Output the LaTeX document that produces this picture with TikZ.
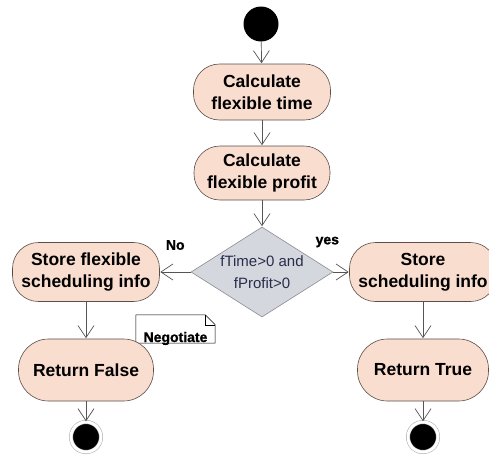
\documentclass[tikz,border=0pt]{standalone}
\usepackage{fontspec}
\setmainfont{Liberation Sans}
\usetikzlibrary{arrows.meta,shapes.geometric}
\definecolor{actfill}{RGB}{249,221,207}
\definecolor{actline}{RGB}{90,78,72}
\definecolor{decfill}{RGB}{212,215,222}
\definecolor{decline}{RGB}{140,140,145}
\definecolor{flowline}{RGB}{85,85,85}
\begin{document}
\begin{tikzpicture}[x=1pt,y=-1pt,
	every edge/.append style={draw=flowline,line width=0.7pt,-{Straight Barb[length=12pt,width=16pt]},shorten >=0.5pt},
	start node/.style={circle,fill=black,minimum size=35pt,inner sep=0pt},
	end node/.style={circle,fill=black,draw=black!35,line width=0.5pt,double=white,double distance=3pt,minimum size=30pt,inner sep=0pt},
	action node/.style={rectangle,draw=actline,fill=actfill,line width=0.6pt,rounded corners=26pt,inner sep=0pt,align=center,font=\bfseries\fontsize{17.5}{22}\selectfont},
	decision node/.style={diamond,draw=decline,fill=decfill,line width=0.6pt,aspect=1.58,inner sep=-3pt,minimum width=142pt,minimum height=90pt,align=center,text={rgb,255:red,40;green,45;blue,75},font=\fontsize{15}{22}\selectfont},
	label node/.style={font=\bfseries\fontsize{14}{16}\selectfont\addfontfeature{FakeBold=1.2}},
	note node/.style={inner sep=0pt,minimum width=79pt,minimum height=28pt,text height=26pt,text depth=0pt,font=\bfseries\fontsize{14}{16}\selectfont\addfontfeature{FakeBold=1.2}}]
	\useasboundingbox (0,0) rectangle (489,455);
	\fill[white] (0,0) rectangle (489,455);
	
	\node[start node] (0) at (261,24) {};
	\node[action node,minimum width=137pt,minimum height=56pt] (1) at (262,92) {Calculate\\flexible time};
	\node[action node,minimum width=136pt,minimum height=54pt] (2) at (262,173) {Calculate\\flexible profit};
	\node[decision node] (3) at (262,272) {fTime>0 and\\fProfit>0};
	\node[action node,minimum width=147pt,minimum height=59pt] (4) at (86,272) {Store flexible\\scheduling info};
	\node[action node,minimum width=147pt,minimum height=59pt] (5) at (423,272) {Store\\scheduling info};
	
	% note sits behind the box
	\node[note node] (n) at (175.5,329) {Negotiate};
	\draw[fill=white,draw=black,line width=0.5pt] (n.south west) -- (n.north west) -- ([xshift=-10pt]n.north east) -- ([yshift=-10pt]n.north east) -- (n.south east) -- cycle;
	\draw[draw=black,line width=0.5pt] ([xshift=-10pt]n.north east) -- ([xshift=-10pt,yshift=-10pt]n.north east) -- ([yshift=-10pt]n.north east);
	\node[note node] at (n) {Negotiate};
	
	\node[action node,minimum width=135pt,minimum height=62pt,rounded corners=30pt] (6) at (86,370) {Return False};
	\node[action node,minimum width=131pt,minimum height=62pt,rounded corners=30pt] (7) at (423,370) {Return True};
	\node[end node] (8) at (86,437) {};
	\node[end node] (9) at (423,437) {};
	
	\path (0) edge (1);
	\path (1) edge (2);
	\path (2) edge (3);
	\path (3) edge node[label node,pos=0.5,yshift=27pt] {No} (4);
	\path (3) edge node[label node,at start,xshift=-6pt,yshift=30pt] {yes} (5);
	\path (4) edge (6);
	\path (5) edge (7);
	\path (6) edge (8);
	\path (7) edge (9);
\end{tikzpicture}
\end{document}
